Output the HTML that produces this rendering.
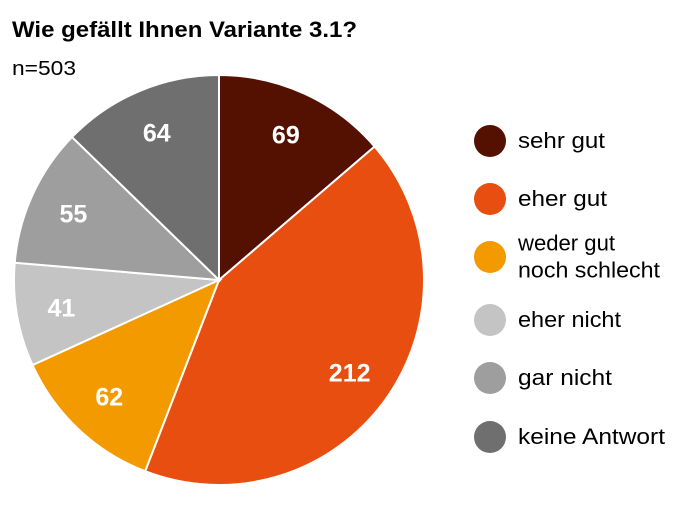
<!DOCTYPE html>
<html><head><meta charset="utf-8"><style>
html,body{margin:0;padding:0;background:#fff;}
body{width:689px;height:503px;overflow:hidden;font-family:"Liberation Sans",sans-serif;}
</style></head><body>
<svg width="689" height="503" viewBox="0 0 689 503">
<text x="12" y="37" font-size="22" font-weight="bold" fill="#000" textLength="345" lengthAdjust="spacingAndGlyphs">Wie gefällt Ihnen Variante 3.1?</text>
<text x="12" y="75" font-size="20" fill="#000" textLength="64" lengthAdjust="spacingAndGlyphs">n=503</text>
<g id="slices"></g>
<g id="labels"></g>
<g id="legend"></g>
</svg>
<script>
const categories=["sehr gut","eher gut","weder gut|noch schlecht","eher nicht","gar nicht","keine Antwort"];
const values=[69,212,62,41,55,64];
const colors=["#541000","#e84e0f","#f29a00","#c4c4c4","#9e9e9e","#6f6f6f"];
const legendY=[141,199,257,320,378,437];
const labelWidth={"sehr gut":87,"eher gut":89,"weder gut":97,"noch schlecht":142,"eher nicht":103,"gar nicht":94,"keine Antwort":147};
const NS="http://www.w3.org/2000/svg";
const cx=219,cy=280,r=205;
const total=values.reduce((a,b)=>a+b,0);
function pt(a,rr){return [cx+rr*Math.sin(a),cy-rr*Math.cos(a)];}
let acc=0;
const gs=document.getElementById('slices'),gl=document.getElementById('labels'),lg=document.getElementById('legend');
values.forEach((v,i)=>{
  const a0=acc/total*2*Math.PI;acc+=v;const a1=acc/total*2*Math.PI;
  const p0=pt(a0,r),p1=pt(a1,r);
  const large=(a1-a0)>Math.PI?1:0;
  const p=document.createElementNS(NS,'path');
  p.setAttribute('d',`M${cx},${cy} L${p0[0]},${p0[1]} A${r},${r} 0 ${large} 1 ${p1[0]},${p1[1]} Z`);
  p.setAttribute('fill',colors[i]);p.setAttribute('stroke','#fff');p.setAttribute('stroke-width','2');
  
  
  gs.appendChild(p);
  const m=pt((a0+a1)/2,160);
  const t=document.createElementNS(NS,'text');
  t.setAttribute('x',m[0]);t.setAttribute('y',m[1]+9);t.setAttribute('text-anchor','middle');
  t.setAttribute('font-size','25');t.setAttribute('font-weight','bold');t.setAttribute('fill','#fff');
  t.textContent=v;
  
  
  gl.appendChild(t);
  const c=document.createElementNS(NS,'circle');
  c.setAttribute('cx',490);c.setAttribute('cy',legendY[i]);c.setAttribute('r',16);c.setAttribute('fill',colors[i]);
  
  
  lg.appendChild(c);
  const lines=categories[i].split('|');
  lines.forEach((ln,j)=>{
    const tt=document.createElementNS(NS,'text');
    tt.setAttribute('x',518);
    tt.setAttribute('y',legendY[i]+7+(j-(lines.length-1)/2)*27);
    tt.setAttribute('font-size','22');tt.setAttribute('fill','#000');
    if(labelWidth[ln]){tt.setAttribute('textLength',String(labelWidth[ln]));tt.setAttribute('lengthAdjust','spacingAndGlyphs');}
    tt.textContent=ln;
    
    
    lg.appendChild(tt);
  });
});
</script>
</body></html>
